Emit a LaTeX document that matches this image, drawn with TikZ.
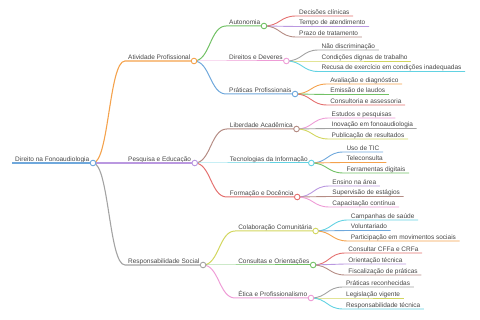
\documentclass[tikz,border=0pt]{standalone}
\usepackage{fontspec}
\setmainfont{Liberation Sans}
\usetikzlibrary{calc}
\definecolor{mblue}{HTML}{6FA8DC}
\definecolor{morange}{HTML}{F4A24C}
\definecolor{mgreen}{HTML}{72C165}
\definecolor{mred}{HTML}{E4706F}
\definecolor{mpurple}{HTML}{BA98E0}
\definecolor{mbrown}{HTML}{B58C84}
\definecolor{mpink}{HTML}{EE9CD6}
\definecolor{mgray}{HTML}{A3A3A3}
\definecolor{molive}{HTML}{D2D65E}
\definecolor{mcyan}{HTML}{62D2E2}
\tikzset{
  txt/.style={
    anchor = base west,
    inner sep = 0pt,
    xshift = 3pt,
    yshift = 1.8pt,
    text = black!72,
    font = \fontsize{6.5}{7.8}\selectfont
  },
  dot/.style={
    shape = circle,
    draw,
    fill = white,
    inner sep = 0pt,
    minimum size = 5.6pt,
    line width = 0.9pt
  },
  lvlroot/.style={line width=1.5pt},
  lvlone/.style={line width=1.1pt},
  lvltwo/.style={line width=1pt},
  leaf/.style={line width=0.9pt},
}
% name, parent, y of the line, style, text
\newcommand\topic[5]{%
  \path (#2) ++(32,0) coordinate (#1-x);
  \coordinate (#1-s) at (#1-x |- 0,#3);
  \node[txt] (#1-t) at (#1-s) {#5};
  \coordinate (#1) at ($(#1-t.base east |- #1-s)+(3.5,0)$);
  \coordinate (#1-m) at ($(#2)!0.5!(#1-s)$);
  \draw[#4] (#2) .. controls (#1-m |- #2) and (#1-m |- #1-s) .. (#1-s) -- (#1);
}
\begin{document}
\begin{tikzpicture}[x=1pt,y=-1pt]
  \useasboundingbox (0,0) rectangle (480,320);

  % root
  \coordinate (root-s) at (12,163);
  \node[txt] (root-t) at (root-s) {Direito na Fonoaudiologia};
  \coordinate (root) at ($(root-t.base east |- root-s)+(3.5,0)$);
  \draw[mblue,lvlroot] (root-s) -- (root);

  % Atividade Profissional
  \topic{ap}{root}{61}{morange,lvlone}{Atividade Profissional}
  \topic{au}{ap}{26}{mgreen,lvltwo}{Autonomia}
  \topic{au1}{au}{16}{mred,leaf}{Decisões clínicas}
  \topic{au2}{au}{26.5}{mpurple,leaf}{Tempo de atendimento}
  \topic{au3}{au}{37}{mbrown,leaf}{Prazo de tratamento}
  \topic{dd}{ap}{61}{mpink,lvltwo}{Direitos e Deveres}
  \topic{dd1}{dd}{50}{mgray,leaf}{Não discriminação}
  \topic{dd2}{dd}{61}{molive,leaf}{Condições dignas de trabalho}
  \topic{dd3}{dd}{71.5}{mcyan,leaf}{Recusa de exercício em condições inadequadas}
  \topic{pp}{ap}{94}{mblue,lvltwo}{Práticas Profissionais}
  \topic{pp1}{pp}{84}{morange,leaf}{Avaliação e diagnóstico}
  \topic{pp2}{pp}{94.5}{mgreen,leaf}{Emissão de laudos}
  \topic{pp3}{pp}{105}{mred,leaf}{Consultoria e assessoria}

  % Pesquisa e Educação
  \topic{pe}{root}{163}{mpurple,lvlone}{Pesquisa e Educação}
  \topic{la}{pe}{129}{mbrown,lvltwo}{Liberdade Acadêmica}
  \topic{la1}{la}{118}{mpink,leaf}{Estudos e pesquisas}
  \topic{la2}{la}{128.5}{mgray,leaf}{Inovação em fonoaudiologia}
  \topic{la3}{la}{139}{molive,leaf}{Publicação de resultados}
  \topic{ti}{pe}{163}{mcyan,lvltwo}{Tecnologias da Informação}
  \topic{ti1}{ti}{152}{mblue,leaf}{Uso de TIC}
  \topic{ti2}{ti}{162.5}{morange,leaf}{Teleconsulta}
  \topic{ti3}{ti}{173}{mgreen,leaf}{Ferramentas digitais}
  \topic{fd}{pe}{197}{mred,lvltwo}{Formação e Docência}
  \topic{fd1}{fd}{186}{mpurple,leaf}{Ensino na área}
  \topic{fd2}{fd}{196.5}{mbrown,leaf}{Supervisão de estágios}
  \topic{fd3}{fd}{207}{mpink,leaf}{Capacitação contínua}

  % Responsabilidade Social
  \topic{rs}{root}{265}{mgray,lvlone}{Responsabilidade Social}
  \topic{cc}{rs}{231}{molive,lvltwo}{Colaboração Comunitária}
  \topic{cc1}{cc}{220}{mcyan,leaf}{Campanhas de saúde}
  \topic{cc2}{cc}{230.5}{mblue,leaf}{Voluntariado}
  \topic{cc3}{cc}{241}{morange,leaf}{Participação em movimentos sociais}
  \topic{co}{rs}{265}{mgreen,lvltwo}{Consultas e Orientações}
  \topic{co1}{co}{253}{mred,leaf}{Consultar CFFa e CRFa}
  \topic{co2}{co}{264}{mpurple,leaf}{Orientação técnica}
  \topic{co3}{co}{275}{mbrown,leaf}{Fiscalização de práticas}
  \topic{ep}{rs}{298}{mpink,lvltwo}{Ética e Profissionalismo}
  \topic{ep1}{ep}{287}{mgray,leaf}{Práticas reconhecidas}
  \topic{ep2}{ep}{298}{molive,leaf}{Legislação vigente}
  \topic{ep3}{ep}{309}{mcyan,leaf}{Responsabilidade técnica}

  % circles on top
  \foreach \n/\c in {root/mblue, ap/morange, pe/mpurple, rs/mgray,
      au/mgreen, dd/mpink, pp/mblue, la/mbrown, ti/mcyan, fd/mred,
      cc/molive, co/mgreen, ep/mpink}
    \node[dot, draw=\c] (\n-dot) at (\n) {};
\end{tikzpicture}
\end{document}
